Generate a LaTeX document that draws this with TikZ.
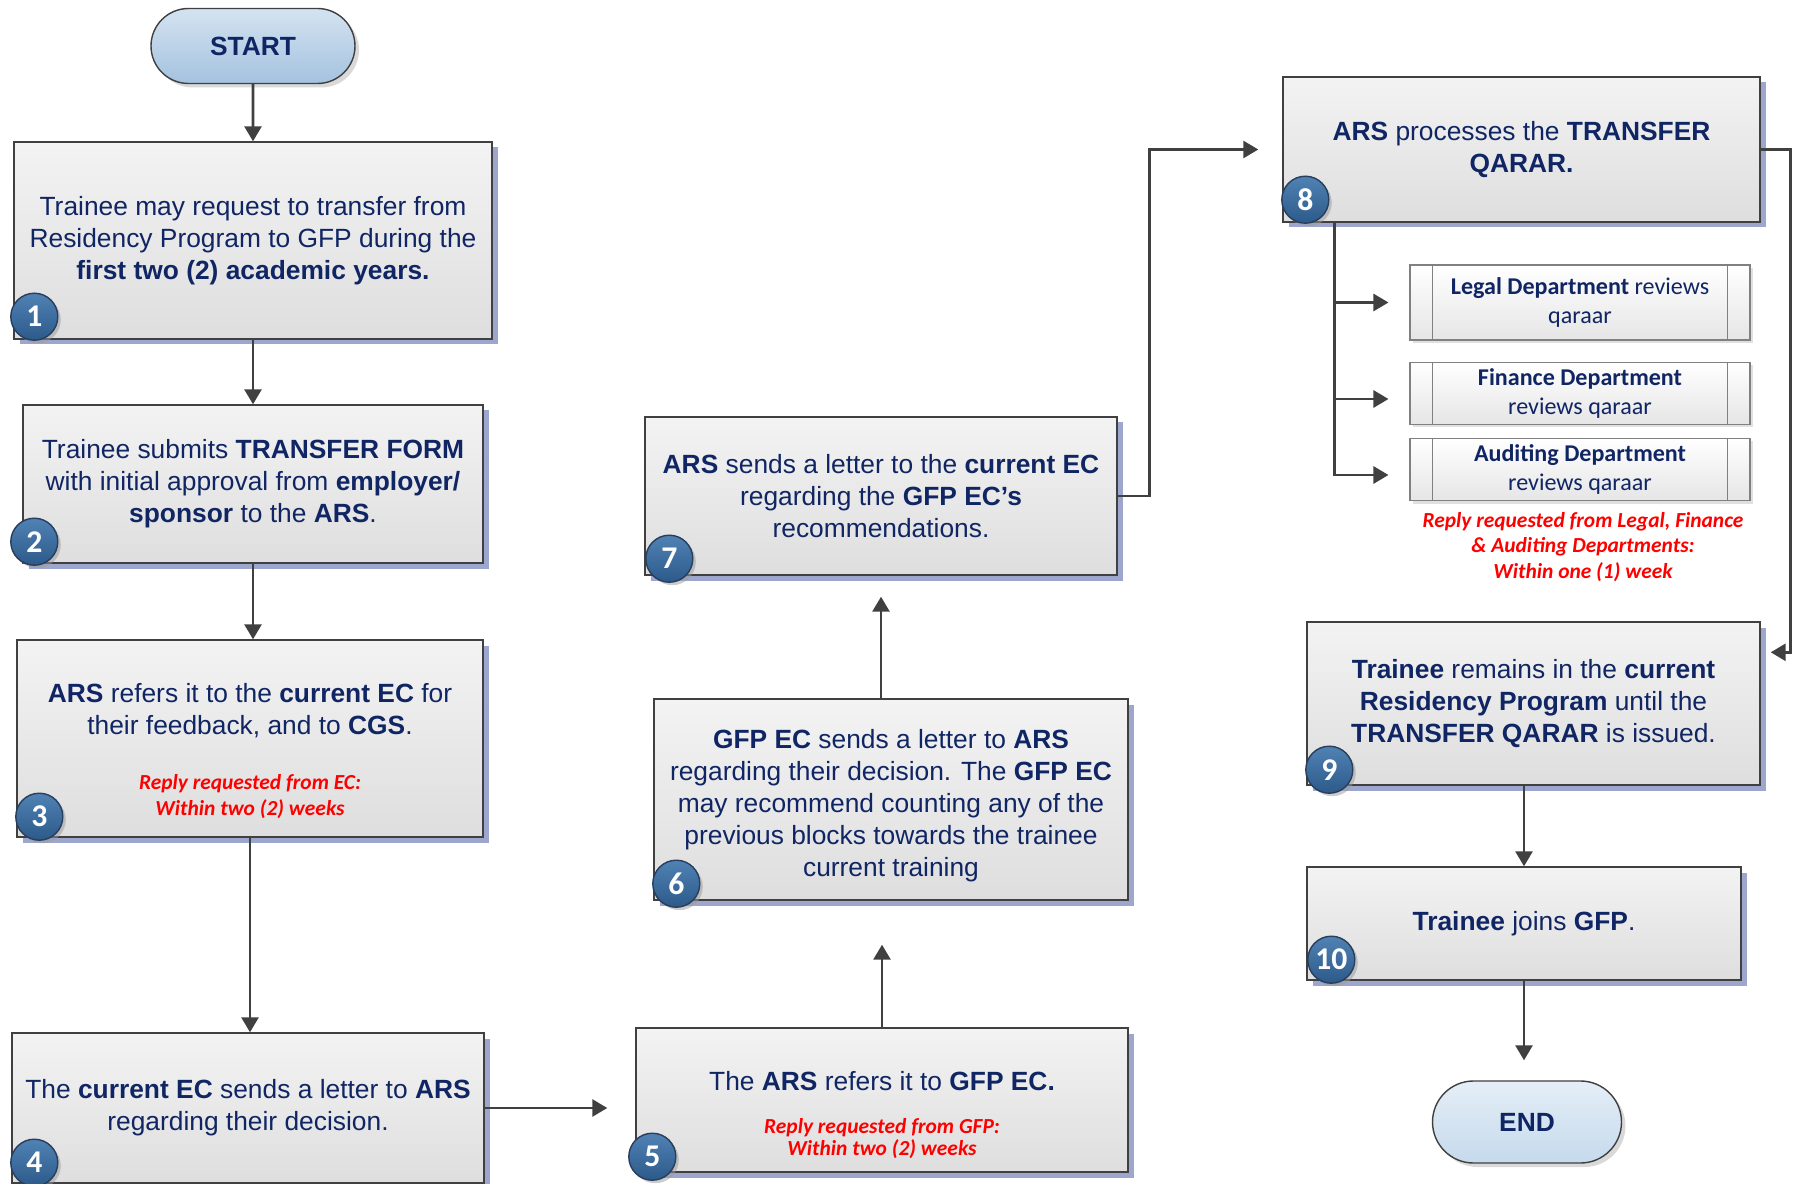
\documentclass[tikz,border=0pt]{standalone}
\usepackage{fontspec}
\setmainfont{Liberation Sans}
\newfontfamily\calibri{Carlito}
\usepackage{xcolor}
\usetikzlibrary{arrows.meta,shapes.misc,shadows}
\definecolor{navy}{RGB}{16,37,99}
\definecolor{linegrey}{RGB}{64,64,64}
\definecolor{boxtop}{RGB}{243,243,243}
\definecolor{boxbot}{RGB}{222,222,222}
\definecolor{boxshadow}{RGB}{140,152,196}
\definecolor{badgetop}{RGB}{80,130,180}
\definecolor{badgebot}{RGB}{44,90,138}
\definecolor{starttop}{RGB}{212,227,241}
\definecolor{startbot}{RGB}{164,194,223}
\definecolor{endtop}{RGB}{228,238,247}
\definecolor{endbot}{RGB}{198,218,236}
\newcommand{\replynote}[1]{{\calibri\fontsize{12.2}{13}\selectfont\bfseries\itshape\color{red}#1}}
\newcommand{\toppad}[1]{\rule{0pt}{#1}}
\tikzset{
  boxdim/.style 2 args={minimum width=#1*0.2mm,minimum height=#2*0.2mm},
  box/.style={draw=linegrey,line width=0.8pt,top color=boxtop,bottom color=boxbot,
    drop shadow={shadow xshift=1.1mm,shadow yshift=-1.1mm,fill=boxshadow,opacity=0.85},
    align=center,text=navy,inner sep=0pt,font=\fontsize{15}{18.2}\selectfont},
  pill/.style={rounded rectangle,draw=linegrey,line width=0.8pt,top color=starttop,bottom color=startbot,
    drop shadow={shadow xshift=0.8mm,shadow yshift=-0.8mm,fill=black!25,opacity=0.6},
    text=navy,inner sep=0pt,font=\fontsize{15}{18}\selectfont\bfseries,boxdim={204}{75}},
  badge/.style={circle,draw={rgb,255:red,40;green,62;blue,92},line width=0.8pt,top color=badgetop,bottom color=badgebot,
    drop shadow={shadow xshift=0.6mm,shadow yshift=-0.6mm,fill=black!40,opacity=0.5},
    text=white,inner sep=0pt,minimum size=47*0.2mm,font=\calibri\fontsize{18}{18}\selectfont\bfseries},
  dept/.style={draw=black!50,line width=0.6pt,top color=white,bottom color=black!10,
    drop shadow={shadow xshift=0.6mm,shadow yshift=-0.6mm,fill=black!20,opacity=0.6},
    align=center,text=navy,inner sep=0pt,font=\calibri\fontsize{13.7}{16.3}\selectfont},
  rednote/.style={align=center,text=red,inner sep=0pt,font=\calibri\fontsize{12.2}{14.6}\selectfont\bfseries\itshape},
  arrow/.style={draw=linegrey,line width=0.55mm,-{Triangle[length=3mm,width=3.4mm]}},
}

\begin{document}
\begin{tikzpicture}[x=0.2mm,y=-0.2mm]
  \useasboundingbox (0,0) rectangle (1796,1184);

  \node[pill] (start) at (253,46) {START};
  \node[box,boxdim={478}{197}] (b1) at (253,240.5)
    {Trainee may request to transfer from\\Residency Program to GFP during the\\\textbf{first two (2) academic years.}};
  \node[box,boxdim={460}{158}] (b2) at (253,484)
    {Trainee submits \textbf{TRANSFER FORM}\\with initial approval from \textbf{employer/}\\\textbf{sponsor} to the \textbf{ARS}.};
  \node[box,boxdim={466}{197}] (b3) at (250,738.5)
    {\toppad{25.4pt}\textbf{ARS} refers it to the \textbf{current EC} for\\their feedback, and to \textbf{CGS}.\\[13pt]
     \replynote{Reply requested from EC:}\\[-3.2pt]\replynote{Within two (2) weeks}};
  \node[box,boxdim={472}{150}] (b4) at (248,1108)
    {The \textbf{current EC} sends a letter to \textbf{ARS}\\regarding their decision.};
  \node[box,boxdim={492}{144}] (b5) at (882,1100)
    {\toppad{28pt}The \textbf{ARS} refers it to \textbf{GFP EC.}\\[6.3pt]
     \replynote{Reply requested from GFP:}\\[-6.2pt]\replynote{Within two (2) weeks}};
  \node[box,boxdim={474}{201}] (b6) at (891,799.5)
    {\toppad{17.5pt}\textbf{GFP EC} sends a letter to \textbf{ARS}\\regarding their decision. The \textbf{GFP EC}\\may recommend counting any of the\\previous blocks towards the trainee\\current training};
  \node[box,boxdim={472}{158}] (b7) at (881,496)
    {\textbf{ARS} sends a letter to the \textbf{current EC}\\regarding the \textbf{GFP EC’s}\\recommendations.};
  \node[box,boxdim={477}{145}] (b8) at (1521.5,149.5)
    {\textbf{ARS} processes the \textbf{TRANSFER}\\\textbf{QARAR.}};

  \node[dept,boxdim={340}{75}] (legal) at (1580,302.5) {\textbf{Legal Department} reviews\\qaraar};
  \node[dept,boxdim={340}{62}] (finance) at (1580,393.5) {\textbf{Finance Department}\\reviews qaraar};
  \node[dept,boxdim={340}{62}] (audit) at (1580,469.5) {\textbf{Auditing Department}\\reviews qaraar};
  \foreach \d in {legal,finance,audit}
    \draw[black!50,line width=0.6pt] ([xshift=4.6mm]\d.north west) -- ([xshift=4.6mm]\d.south west)
      ([xshift=-4.6mm]\d.north east) -- ([xshift=-4.6mm]\d.south east);
  \node[rednote] (deptnote) at (1583,547)
    {Reply requested from Legal, Finance\\\& Auditing Departments:\\Within one (1) week};

  \node[box,boxdim={453}{163}] (b9) at (1533.5,703.5)
    {\textbf{Trainee} remains in the \textbf{current}\\\textbf{Residency Program} until the\\\textbf{TRANSFER QARAR} is issued.};
  \node[box,boxdim={434}{113}] (b10) at (1524,923.5) {\textbf{Trainee} joins \textbf{GFP}.};
  \node[pill,boxdim={189}{82},top color=endtop,bottom color=endbot] (end) at (1527,1122) {END};

  \foreach \n/\dx/\dy in {1/21/23,2/12/22,3/23/21,4/23/21,5/17/16,6/23/17,7/25/17,8/23/23,9/23/16,10/25/21}
    \node[badge] (n\n) at ([shift={(\dx,-\dy)}]b\n.south west) {\n};

  \draw[arrow] (start) -- (b1);
  \draw[arrow] (b1) -- (b2);
  \draw[arrow] (b2.south) -- (b2.south |- b3.north);
  \draw[arrow] (b3.south) -- (b3.south |- b4.north);
  \draw[arrow,shorten >=5.6mm] (b4.east) -- (b4.east -| b5.west);
  \draw[arrow,shorten >=8.8mm] (b5.north) -- (b5.north |- b6.south);
  \draw[arrow,shorten >=4.2mm] (b6.north -| b7.south) -- (b7.south);
  \draw[arrow,shorten >=4.8mm] (b7.east) -- ++(32,0) |- (b8.west);
  \foreach \d/\dy in {legal/0,finance/-1.1,audit/-1.1}
    \draw[arrow,shorten >=4.2mm] ([xshift=52*0.2mm]b8.south west) |- ([yshift=\dy mm]\d.west);
  \draw[arrow,shorten >=2mm] (b8.east) -- ++(30,0) |- ([yshift=-6.2mm]b9.north east);
  \draw[arrow] (b9.south -| b10.north) -- (b10.north);
  \draw[arrow,shorten >=4mm] (b10.south) -- (b10.south |- end.north);
\end{tikzpicture}
\end{document}
